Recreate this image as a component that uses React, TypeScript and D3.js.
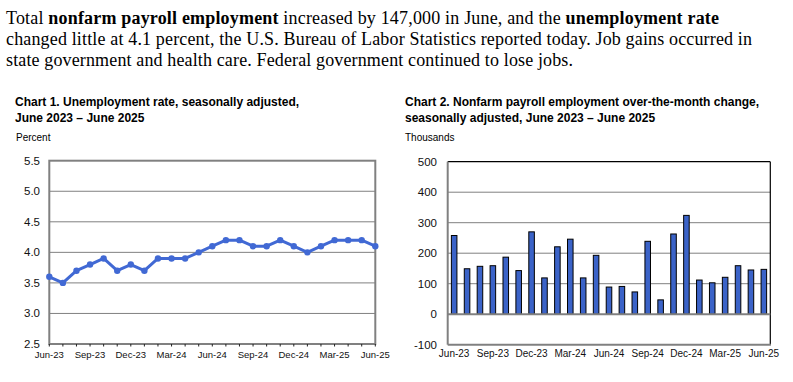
import React from "react";
import * as d3 from "d3";

const months = [
  "Jun-23","Jul-23","Aug-23","Sep-23","Oct-23","Nov-23","Dec-23",
  "Jan-24","Feb-24","Mar-24","Apr-24","May-24","Jun-24","Jul-24","Aug-24","Sep-24","Oct-24","Nov-24","Dec-24",
  "Jan-25","Feb-25","Mar-25","Apr-25","May-25","Jun-25",
];
const unemploymentRate = [3.6,3.5,3.7,3.8,3.9,3.7,3.8,3.7,3.9,3.9,3.9,4.0,4.1,4.2,4.2,4.1,4.1,4.2,4.1,4.0,4.1,4.2,4.2,4.2,4.1];
const payrollChange = [258,149,157,159,187,143,270,119,221,246,119,193,89,91,73,239,47,263,324,112,103,121,159,145,147];
const rateTicks = [2.5,3.0,3.5,4.0,4.5,5.0,5.5];
const payrollTicks = [-100,0,100,200,300,400,500];
const labelMonths = ["Jun-23","Sep-23","Dec-23","Mar-24","Jun-24","Sep-24","Dec-24","Mar-25","Jun-25"];

const SANS = "Arial, 'Liberation Sans', sans-serif";
const SERIF = "'Times New Roman', 'Liberation Serif', serif";
const BLUE = "#4169d4";
const BAR = "#3b63c8";
const GRAY = "#808080";

function Chart1() {
  const x0 = 49.3, x1 = 375.3, yTop = 160.7, yBot = 344;
  const x = d3.scalePoint<string>().domain(months).range([x0, x1]);
  const y = d3.scaleLinear().domain([2.5, 5.5]).range([yBot, yTop]);
  const line = d3.line<number>().x((_, i) => x(months[i])!).y((d) => y(d));
  return (
    <g>
      <text x={15} y={106} fontFamily={SANS} fontWeight="bold" fontSize={12}>Chart 1. Unemployment rate, seasonally adjusted,</text>
      <text x={15} y={122} fontFamily={SANS} fontWeight="bold" fontSize={12}>June 2023 – June 2025</text>
      <text x={16} y={141} fontFamily={SANS} fontSize={10}>Percent</text>
      {rateTicks.map((t) => (
        <g key={t}>
          {t > 2.5 && t < 5.5 && <line x1={x0} x2={x1} y1={y(t)} y2={y(t)} stroke={GRAY} strokeWidth={1} />}
          <text x={40} y={y(t) + 4} textAnchor="end" fontFamily={SANS} fontSize={11.5} fill="#111">{t.toFixed(1)}</text>
        </g>
      ))}
      <rect x={x0} y={yTop} width={x1 - x0} height={yBot - yTop} fill="none" stroke={GRAY} strokeWidth={2} />
      {months.map((m) => (
        <line key={m} x1={x(m)} x2={x(m)} y1={yBot} y2={yBot + 2.5} stroke="#222" strokeWidth={1} />
      ))}
      {labelMonths.map((m) => (
        <text key={m} x={x(m)} y={358} textAnchor="middle" fontFamily={SANS} fontSize={9.5} fill="#111">{m}</text>
      ))}
      <path d={line(unemploymentRate) || ""} fill="none" stroke={BLUE} strokeWidth={3} strokeLinejoin="round" />
      {unemploymentRate.map((v, i) => (
        <circle key={i} cx={x(months[i])} cy={y(v)} r={3.2} fill={BLUE} />
      ))}
    </g>
  );
}

function Chart2() {
  const x0 = 447.7, x1 = 770.3, yTop = 161.7, yBot = 344.7;
  const x = d3.scaleBand<string>().domain(months).range([x0, x1]).paddingInner(0.57).paddingOuter(0.285);
  const y = d3.scaleLinear().domain([-100, 500]).range([yBot, yTop]);
  return (
    <g>
      <text x={405} y={106} fontFamily={SANS} fontWeight="bold" fontSize={12}>Chart 2. Nonfarm payroll employment over-the-month change,</text>
      <text x={405} y={122} fontFamily={SANS} fontWeight="bold" fontSize={12}>seasonally adjusted, June 2023 – June 2025</text>
      <text x={405} y={141} fontFamily={SANS} fontSize={10}>Thousands</text>
      {payrollTicks.map((t) => (
        <g key={t}>
          {t > 0 && t < 500 && <line x1={x0} x2={x1} y1={y(t)} y2={y(t)} stroke={GRAY} strokeWidth={1} />}
          <text x={437} y={y(t) + 4} textAnchor="end" fontFamily={SANS} fontSize={11.5} fill="#111">{t}</text>
        </g>
      ))}
      <line x1={x0} x2={x1} y1={yTop} y2={yTop} stroke="#000" strokeWidth={1.2} />
      <line x1={x1} x2={x1} y1={yTop} y2={yBot} stroke="#000" strokeWidth={1.2} />
      {payrollChange.map((v, i) => (
        <rect key={i} x={x(months[i])} y={y(Math.max(0, v))} width={x.bandwidth()} height={Math.abs(y(v) - y(0))} fill={BAR} stroke="#000" strokeWidth={1} />
      ))}
      <line x1={x0} x2={x1} y1={y(0)} y2={y(0)} stroke={GRAY} strokeWidth={2} />
      <line x1={x0} x2={x0} y1={yTop} y2={yBot} stroke={GRAY} strokeWidth={2} />
      <line x1={x0} x2={x1 + 0.6} y1={yBot} y2={yBot} stroke={GRAY} strokeWidth={2} />
      {labelMonths.map((m) => (
        <text key={m} x={x(m)! + x.bandwidth() / 2} y={357} textAnchor="middle" fontFamily={SANS} fontSize={10} fill="#111">{m}</text>
      ))}
    </g>
  );
}

export default function App() {
  return (
    <svg width={793} height={382} style={{ position: "absolute", left: 0, top: 0, background: "#fff" }}>
      <g fontFamily={SERIF} fontSize={18} fill="#000">
        <text x={6} y={24} textLength={713}>
          Total <tspan fontWeight="bold">nonfarm payroll employment</tspan> increased by 147,000 in June, and the <tspan fontWeight="bold">unemployment rate</tspan>
        </text>
        <text x={6} y={45} textLength={746}>changed little at 4.1 percent, the U.S. Bureau of Labor Statistics reported today. Job gains occurred in</text>
        <text x={6} y={65.5} textLength={567}>state government and health care. Federal government continued to lose jobs.</text>
      </g>
      <Chart1 />
      <Chart2 />
    </svg>
  );
}
